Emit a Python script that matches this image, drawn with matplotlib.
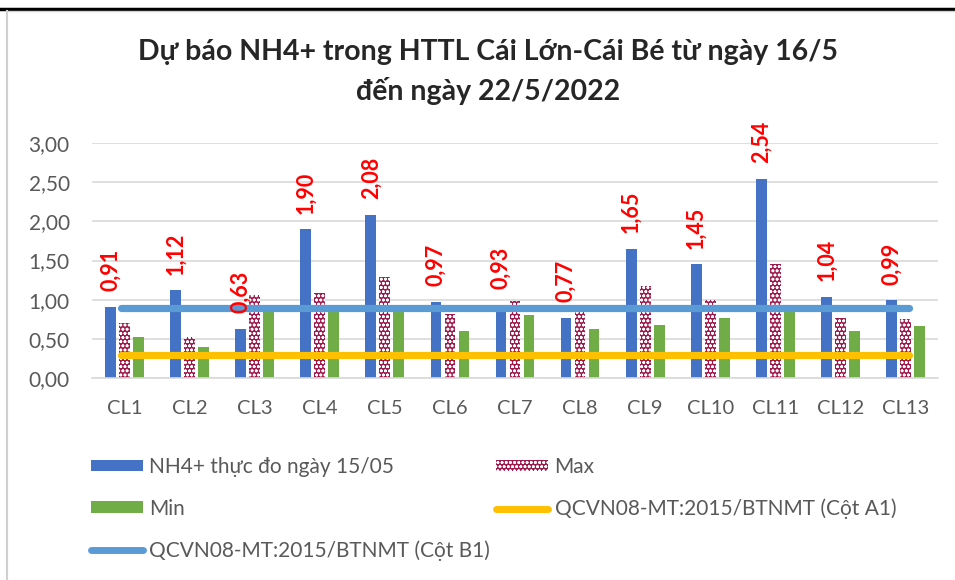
import matplotlib
matplotlib.use("Agg")
import matplotlib.pyplot as plt
import numpy as np
from matplotlib.lines import Line2D
from matplotlib.patches import Patch

plt.rcParams['font.family'] = ['Lato', 'DejaVu Sans']
plt.rcParams['hatch.linewidth'] = 0.8

categories = ['CL1', 'CL2', 'CL3', 'CL4', 'CL5', 'CL6', 'CL7', 'CL8', 'CL9', 'CL10', 'CL11', 'CL12', 'CL13']
measured = [0.91, 1.12, 0.63, 1.90, 2.08, 0.97, 0.93, 0.77, 1.65, 1.45, 2.54, 1.04, 0.99]
max_vals = [0.70, 0.52, 1.06, 1.08, 1.29, 0.82, 0.98, 0.89, 1.18, 1.00, 1.46, 0.76, 0.75]
min_vals = [0.52, 0.40, 0.88, 0.88, 0.85, 0.60, 0.81, 0.62, 0.68, 0.76, 0.88, 0.60, 0.67]
a1_limit = 0.3
b1_limit = 0.9
yticks = [0.0, 0.5, 1.0, 1.5, 2.0, 2.5, 3.0]

W, H = 955, 580
fig = plt.figure(figsize=(W/100, H/100), dpi=100)

# document frame
fig.add_artist(Line2D([0, 1], [1 - 9/H, 1 - 9/H], color='black', lw=2.5, transform=fig.transFigure))
fig.add_artist(Line2D([7/W, 7/W], [0, 1 - 11/H], color='#d0d0d0', lw=1.5, transform=fig.transFigure))
fig.add_artist(Line2D([7/W, 1], [1 - 11/H, 1 - 11/H], color='#d0d0d0', lw=1.0, transform=fig.transFigure))

ax_l, ax_r = 92/W, 938/W
ax_b, ax_t = 1 - 378/H, 1 - 143/H
ax = fig.add_axes([ax_l, ax_b, ax_r - ax_l, ax_t - ax_b])

x = np.arange(len(categories))
bw = 0.165
off = 0.215
hatch_col = '#9E1A4A'
ax.bar(x - off, measured, bw, color='#4472C4', zorder=2)
ax.bar(x, max_vals, bw, facecolor=hatch_col, edgecolor='white', hatch='oooo', lw=0, zorder=2)
ax.bar(x + off, min_vals, bw, color='#70AD47', zorder=2)

ax.plot([x[0] - 0.05, x[-1] + 0.05], [a1_limit, a1_limit], color='#FFC000', lw=5.2, solid_capstyle='round', zorder=3)
ax.plot([x[0] - 0.05, x[-1] + 0.05], [b1_limit, b1_limit], color='#5B9BD5', lw=5.2, solid_capstyle='round', zorder=3)

for xi, v in zip(x, measured):
    ax.text(xi - off, v + 0.2, f"{v:.2f}".replace('.', ','), rotation=90, ha='center', va='bottom',
            color='#FF0000', fontsize=15.5, fontweight='bold', zorder=4)

ax.set_xlim(-0.5, len(categories) - 0.5)
ax.set_ylim(0, 3.0)
ax.set_yticks(yticks)
ax.set_yticklabels([f"{t:.2f}".replace('.', ',') for t in yticks], color='#595959', fontsize=15)
ax.set_xticks(x)
ax.set_xticklabels(categories, color='#595959', fontsize=14.5)
ax.tick_params(axis='x', length=0, pad=16)
ax.tick_params(axis='y', length=0, pad=16)
ax.yaxis.grid(True, color='#d9d9d9', lw=1.2, zorder=0)
ax.set_axisbelow(True)
for s in ['top', 'right', 'left']:
    ax.spines[s].set_visible(False)
ax.spines['bottom'].set_color('#d9d9d9')
ax.spines['bottom'].set_linewidth(1.2)

fig.text(488/W, 1 - 72/H, "Dự báo NH4+ trong HTTL Cái Lớn-Cái Bé từ ngày 16/5\nđến ngày 22/5/2022",
         ha='center', va='center', fontsize=20.5, fontweight='bold', color='#262626', linespacing=1.55)

h_nh4 = Patch(facecolor='#4472C4')
h_max = Patch(facecolor=hatch_col, edgecolor='white', hatch='oooo', lw=0)
h_min = Patch(facecolor='#70AD47')
h_a1 = Line2D([0], [0], color='#FFC000', lw=5, solid_capstyle='round')
h_b1 = Line2D([0], [0], color='#5B9BD5', lw=5, solid_capstyle='round')
# column-major order so rows read: NH4+ | Max ; Min | A1 ; B1
handles = [h_nh4, h_min, h_b1, h_max, h_a1]
labels = ['NH4+ thực đo ngày 15/05', 'Min', 'QCVN08-MT:2015/BTNMT (Cột B1)', 'Max', 'QCVN08-MT:2015/BTNMT (Cột A1)']
leg = fig.legend(handles, labels, ncol=2, loc='upper left', bbox_to_anchor=(72/W, 1 - 438/H),
                 frameon=False, fontsize=15, labelcolor='#595959', handlelength=2.5, handleheight=0.48,
                 handletextpad=0.3, columnspacing=0.3, labelspacing=1.05)

fig.savefig('out.png', dpi=100)
